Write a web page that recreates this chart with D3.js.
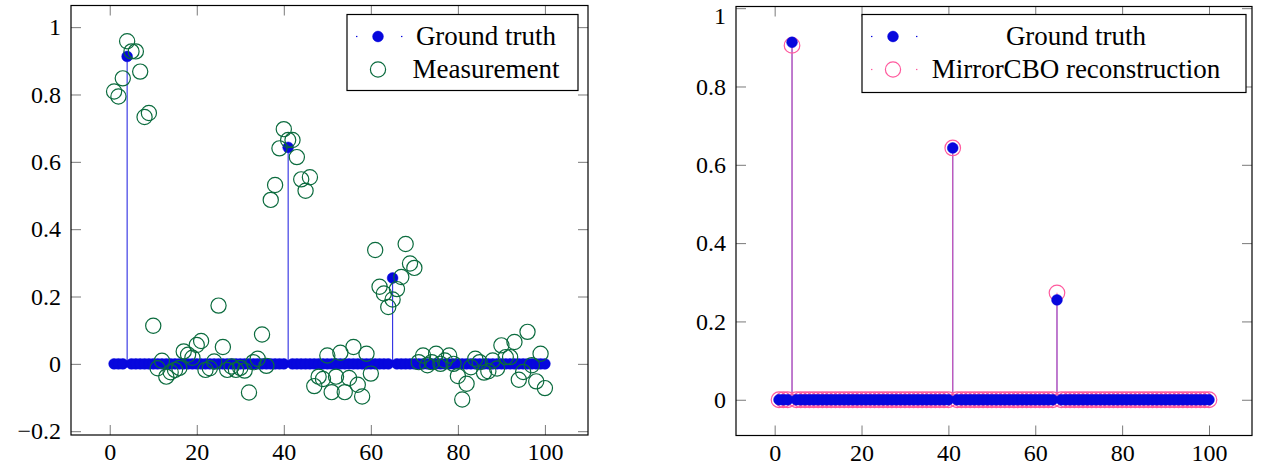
<!DOCTYPE html>
<html>
<head>
<meta charset="utf-8">
<script src="https://cdn.jsdelivr.net/npm/d3@7"></script>
<style>
  body { margin: 0; background: #fff; }
  text { font-family: "Liberation Serif", "Times New Roman", Times, "DejaVu Serif", "Noto Serif", serif; fill: #000; }
</style>
</head>
<body>
<script>
//
// Data (sample index 1..100)
//

const groundTruth = [
  0, 0, 0, 0.913, 0, 0, 0, 0, 0, 0,
  0, 0, 0, 0, 0, 0, 0, 0, 0, 0,
  0, 0, 0, 0, 0, 0, 0, 0, 0, 0,
  0, 0, 0, 0, 0, 0, 0, 0, 0, 0,
  0.643, 0, 0, 0, 0, 0, 0, 0, 0, 0,
  0, 0, 0, 0, 0, 0, 0, 0, 0, 0,
  0, 0, 0, 0, 0.255, 0, 0, 0, 0, 0,
  0, 0, 0, 0, 0, 0, 0, 0, 0, 0,
  0, 0, 0, 0, 0, 0, 0, 0, 0, 0,
  0, 0, 0, 0, 0, 0, 0, 0, 0, 0
];

const measurement = [
  0.809, 0.794, 0.848, 0.958, 0.928, 0.928, 0.868, 0.733, 0.745, 0.113,
  -0.013, 0.009, -0.038, -0.025, -0.018, -0.012, 0.037, 0.027, 0.018, 0.056,
  0.068, -0.018, -0.013, 0.007, 0.173, 0.05, -0.018, -0.008, -0.018, -0.012,
  -0.02, -0.085, 0.005, 0.015, 0.087, -0.006, 0.487, 0.531, 0.64, 0.697,
  0.665, 0.665, 0.614, 0.548, 0.514, 0.554, -0.066, -0.038, -0.045, 0.025,
  -0.084, -0.038, 0.033, -0.084, -0.042, 0.05, -0.062, -0.097, 0.03, -0.029,
  0.338, 0.229, 0.209, 0.169, 0.191, 0.222, 0.258, 0.356, 0.298, 0.285,
  0.005, 0.025, -0.004, 0.005, 0.03, 0.0, 0.01, 0.025, 0.0, -0.036,
  -0.106, -0.059, -0.01, 0.015, 0.005, -0.026, -0.022, 0.01, -0.014, 0.055,
  0.02, 0.02, 0.065, -0.047, -0.024, 0.095, -0.004, -0.052, 0.03, -0.072
];

const reconstruction = [
  0, 0, 0, 0.905, 0, 0, 0, 0, 0, 0,
  0, 0, 0, 0, 0, 0, 0, 0, 0, 0,
  0, 0, 0, 0, 0, 0, 0, 0, 0, 0,
  0, 0, 0, 0, 0, 0, 0, 0, 0, 0,
  0.643, 0, 0, 0, 0, 0, 0, 0, 0, 0,
  0, 0, 0, 0, 0, 0, 0, 0, 0, 0,
  0, 0, 0, 0, 0.273, 0, 0, 0, 0, 0,
  0, 0, 0, 0, 0, 0, 0, 0, 0, 0,
  0, 0, 0, 0, 0, 0, 0, 0, 0, 0,
  0, 0, 0, 0, 0, 0, 0, 0, 0, 0
];

const xTicks = [0, 20, 40, 60, 80, 100];
const yTicksLeft = [-0.2, 0, 0.2, 0.4, 0.6, 0.8, 1];
const yTicksRight = [0, 0.2, 0.4, 0.6, 0.8, 1];

const legendLeft = ['Ground truth', 'Measurement'];
const legendRight = ['Ground truth', 'MirrorCBO reconstruction'];

//
// Set-up
//

const blue = '#0707dd';
const green = '#0b6b3e';
const pink = '#ff5a9e';
const fontSize = 24;
const serif = '"Liberation Serif", "Times New Roman", Times, "DejaVu Serif", "Noto Serif", serif';

const svg = d3.select('body')
  .append('svg')
    .attr('width', 1262)
    .attr('height', 465);

// turn a series into {x, y} points
const toPoints = arr => arr.map((v, i) => ({ x: i + 1, y: v }));

function drawAxes(g, xScale, yScale, yTicks) {
  const [x0, x1] = xScale.range();
  const [y1, y0] = yScale.range();
  const fmt = d3.format('~g');

  const styleAxis = sel => {
    sel.attr('font-family', serif).attr('font-size', fontSize);
    sel.select('.domain').remove();
    sel.selectAll('.tick line').attr('stroke', '#7a7a7a').attr('stroke-width', 1);
    sel.selectAll('.tick text')
      .style('font-family', serif)
      .style('font-size', `${fontSize}px`)
      .attr('fill', '#000');
  };

  g.append('g')
    .attr('transform', `translate(0, ${y1})`)
    .call(d3.axisBottom(xScale).tickValues(xTicks).tickFormat(fmt)
      .tickSizeInner(-10).tickSizeOuter(0).tickPadding(8))
    .call(styleAxis);

  g.append('g')
    .attr('transform', `translate(0, ${y0})`)
    .call(d3.axisTop(xScale).tickValues(xTicks).tickFormat('')
      .tickSizeInner(-10).tickSizeOuter(0))
    .call(styleAxis);

  g.append('g')
    .attr('transform', `translate(${x0}, 0)`)
    .call(d3.axisLeft(yScale).tickValues(yTicks).tickFormat(fmt)
      .tickSizeInner(-10).tickSizeOuter(0).tickPadding(10))
    .call(styleAxis);

  g.append('g')
    .attr('transform', `translate(${x1}, 0)`)
    .call(d3.axisRight(yScale).tickValues(yTicks).tickFormat('')
      .tickSizeInner(-10).tickSizeOuter(0))
    .call(styleAxis);

  g.append('rect')
    .attr('x', x0)
    .attr('y', y0)
    .attr('width', x1 - x0)
    .attr('height', y1 - y0)
    .attr('fill', 'none')
    .attr('stroke', '#000')
    .attr('stroke-width', 1.2);
}

function drawStems(g, points, xScale, yScale, color, opacity) {
  g.selectAll(null)
    .data(points.filter(d => d.y !== 0))
    .enter().append('line')
      .attr('x1', d => xScale(d.x))
      .attr('x2', d => xScale(d.x))
      .attr('y1', yScale(0))
      .attr('y2', d => yScale(d.y))
      .attr('stroke', color)
      .attr('stroke-opacity', opacity)
      .attr('stroke-width', 1.1);
}

function drawDots(g, points, xScale, yScale) {
  g.selectAll(null)
    .data(points)
    .enter().append('circle')
      .attr('cx', d => xScale(d.x))
      .attr('cy', d => yScale(d.y))
      .attr('r', 5.4)
      .attr('fill', blue)
      .attr('stroke', blue)
      .attr('stroke-width', 0.5);
}

function drawRings(g, points, xScale, yScale, color, r) {
  g.selectAll(null)
    .data(points)
    .enter().append('circle')
      .attr('cx', d => xScale(d.x))
      .attr('cy', d => yScale(d.y))
      .attr('r', r)
      .attr('fill', 'none')
      .attr('stroke', color)
      .attr('stroke-width', 1.2);
}

function drawLegend(g, box, labels, ringColor, textX, specksOnRing) {
  g.append('rect')
    .attr('x', box.x)
    .attr('y', box.y)
    .attr('width', box.w)
    .attr('height', box.h)
    .attr('fill', '#fff')
    .attr('stroke', '#000')
    .attr('stroke-width', 1.2);

  const rows = [box.y + 22, box.y + 55];
  const mx = box.x + 31;

  // small specks at the ends of the legend line
  const specks = (y, color) => {
    [mx - 22, mx + 23].forEach(sx => {
      g.append('rect')
        .attr('x', sx).attr('y', y - 0.6)
        .attr('width', 1.4).attr('height', 1.2)
        .attr('fill', color);
    });
  };

  specks(rows[0], blue);
  g.append('circle')
    .attr('cx', mx).attr('cy', rows[0]).attr('r', 5.4)
    .attr('fill', blue).attr('stroke', blue).attr('stroke-width', 0.5);

  if (specksOnRing) specks(rows[1], ringColor);
  g.append('circle')
    .attr('cx', mx).attr('cy', rows[1]).attr('r', 7.6)
    .attr('fill', 'none').attr('stroke', ringColor).attr('stroke-width', 1.2);

  labels.forEach((t, i) => {
    g.append('text')
      .attr('x', textX)
      .attr('y', rows[i])
      .attr('dy', '0.33em')
      .attr('text-anchor', 'middle')
      .style('font-family', serif)
      .style('font-size', `${fontSize + 3}px`)
      .text(t);
  });
}

//
// Left panel: ground truth and measurement
//

const xLeft = d3.scaleLinear().domain([-8.9, 109.9]).range([71, 588]);
const yLeft = d3.scaleLinear().domain([-0.2113, 1.0643]).range([435, 5.5]);

const left = svg.append('g').attr('class', 'panel left');
drawAxes(left, xLeft, yLeft, yTicksLeft);
drawStems(left, toPoints(groundTruth), xLeft, yLeft, blue, 0.85);
drawDots(left, toPoints(groundTruth), xLeft, yLeft);
drawRings(left, toPoints(measurement), xLeft, yLeft, green, 7.6);
drawLegend(left, { x: 347, y: 14.5, w: 231, h: 76 }, legendLeft, green, 486, false);

//
// Right panel: ground truth and reconstruction
//

const xRight = d3.scaleLinear().domain([-8.9, 109.9]).range([736, 1252]);
const yRight = d3.scaleLinear().domain([-0.0913, 1.0043]).range([435.5, 6.5]);

const right = svg.append('g').attr('class', 'panel right');
drawAxes(right, xRight, yRight, yTicksRight);
drawStems(right, toPoints(groundTruth), xRight, yRight, blue, 0.8);
drawStems(right, toPoints(reconstruction), xRight, yRight, pink, 0.75);
drawRings(right, toPoints(reconstruction), xRight, yRight, pink, 7.8);
drawDots(right, toPoints(groundTruth), xRight, yRight);
drawLegend(right, { x: 862, y: 14.5, w: 384, h: 78 }, legendRight, pink, 1076, true);

// keep the top "1" label of the right axis inside the picture
right.selectAll('.tick text')
  .filter(d => d === 1)
  .attr('dy', '0.62em');
</script>
</body>
</html>
